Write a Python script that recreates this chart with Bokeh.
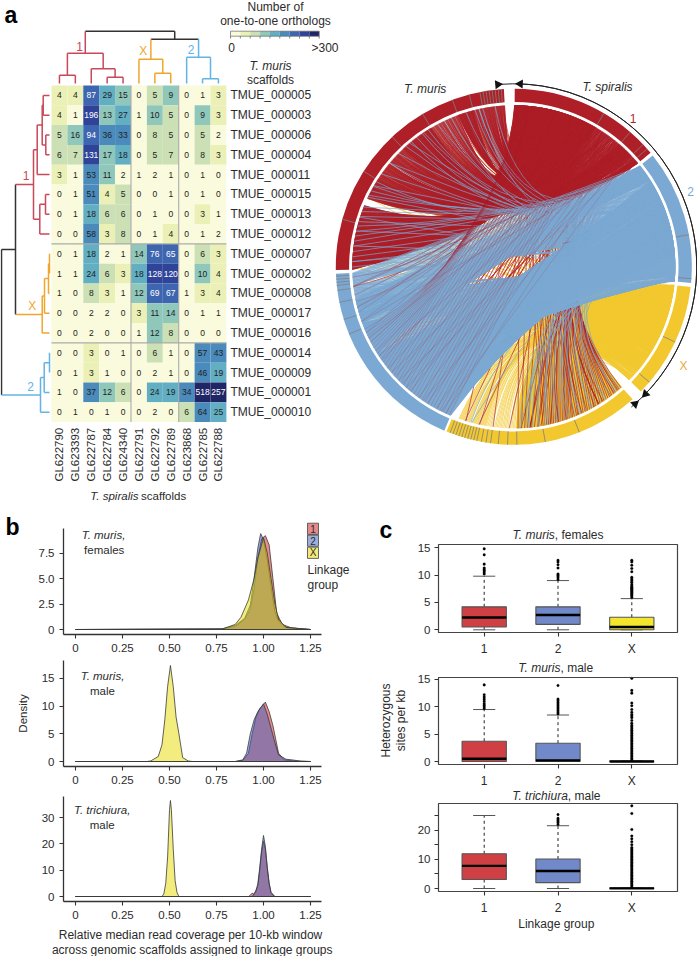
import math
from bokeh.plotting import figure
from bokeh.layouts import column, row
from bokeh.models import Range1d, Label, FixedTicker
from bokeh.core.properties import value
from bokeh.embed import file_html
from bokeh.resources import INLINE

FONT = "Liberation Sans"
INK = "#2b2b2b"
RED, ORANGE, SKY, DARK = "#C9485A", "#F0A62E", "#62B4E4", "#333333"

# ---------- panel a data ----------
muris_rows = ["TMUE_000005","TMUE_000003","TMUE_000006","TMUE_000004","TMUE_000011","TMUE_000015","TMUE_000013","TMUE_000012",
              "TMUE_000007","TMUE_000002","TMUE_000008","TMUE_000017","TMUE_000016","TMUE_000014","TMUE_000009","TMUE_000001","TMUE_000010"]
spiralis_cols = ["GL622790","GL623393","GL622787","GL622784","GL624340","GL622791","GL622792","GL622789","GL623868","GL622785","GL622788"]
ortholog_counts = [
    [4,4,87,29,15,0,5,9,0,1,3],
    [4,1,196,13,27,1,10,5,0,9,3],
    [5,16,94,36,33,0,8,5,0,5,2],
    [6,7,131,17,18,0,5,7,0,8,3],
    [3,1,53,11,2,1,2,1,0,1,0],
    [0,1,51,4,5,0,0,1,0,1,0],
    [0,1,18,6,6,0,1,0,0,3,1],
    [0,0,58,3,8,0,1,4,0,1,2],
    [0,1,18,2,1,14,76,65,0,6,3],
    [1,1,24,6,3,18,128,120,0,10,4],
    [1,0,8,3,1,12,69,67,1,3,4],
    [0,0,2,2,0,3,11,14,0,1,1],
    [0,0,2,0,0,1,12,8,0,0,0],
    [0,0,3,0,1,0,6,1,0,57,43],
    [0,1,3,1,0,0,2,1,0,46,19],
    [1,0,37,12,6,0,24,19,34,518,257],
    [0,1,0,1,0,0,2,0,6,64,25],
]
heat_palette = ["#FAFADC","#EBF1B6","#CBE0B4","#8FC7BB","#62AEC3","#4A8BBC","#3E66B0","#2F4399","#202566"]
heat_limits = [2,4,8,17,30,64,100,250]

col_tree = (54.3,DARK,(32.3,RED,(10.3,RED,0,1),(16.7,RED,2,(8.3,RED,3,4))),
            (46.3,DARK,(26.3,ORANGE,5,(12.3,ORANGE,6,7)),(28.3,SKY,8,(6.7,SKY,9,10))))
row_tree = (50,DARK,(36,DARK,
            (18,RED,(14.3,RED,(9.3,RED,(8.3,RED,0,1),(5.7,RED,2,3)),4),(11.7,RED,(6,RED,5,6),7)),
            (9.3,ORANGE,(7,ORANGE,(3,ORANGE,(2,ORANGE,8,9),10),11),12)),
            (11,SKY,(7.3,SKY,(2,SKY,13,14),15),16))

# circos scaffolds: clockwise degrees from the top
spiralis_arc = {"GL622787":(0.3,30.4),"GL622784":(30.4,40.8),"GL624340":(40.8,46.6),"GL622790":(46.6,48.5),"GL623393":(48.5,50.2),
                "GL622785":(51.3,79.6),"GL622788":(79.6,93.8),"GL623868":(93.8,95.2),
                "GL622792":(96.5,115.0),"GL622789":(115.0,130.4),"GL622791":(130.4,134.5)}
muris_arc = {"TMUE_000002":(138.1,158.4),"TMUE_000007":(158.4,169.8),"TMUE_000008":(169.8,179.0),"TMUE_000016":(179.0,190.0),"TMUE_000017":(190.0,200.0),
             "TMUE_000001":(203.0,247.8),"TMUE_000010":(247.8,252.8),"TMUE_000014":(252.8,258.5),"TMUE_000009":(258.5,267.8),
             "TMUE_000003":(269.0,285.5),"TMUE_000004":(285.5,302.5),"TMUE_000005":(302.5,316.9),"TMUE_000006":(316.9,329.2),
             "TMUE_000012":(329.2,339.8),"TMUE_000011":(339.8,345.5),"TMUE_000013":(345.5,349.5),"TMUE_000015":(349.5,356.8)}
link_free_arcs = {"TMUE_000004":(292.3,295.0)}
ring_groups = [(0.3,50.2,"#AE1F28"),(51.3,95.2,"#7BA9D3"),(96.5,134.5,"#F2C82E"),(138.1,202.2,"#F2C82E"),(203.0,267.8,"#7BA9D3"),(269.0,356.8,"#AE1F28")]
ring_ticks = [30.4,40.8,46.6,48.5,79.6,93.8,115,130.4,158.4,169.8,179,182,185,187.5,189,190.5,192,193,194,195,196,197,198,199,200,201,
              247.8,252.8,258.5,262.4,264,265,266,267,285.5,302.5,316.9,329.2,339.8,345.5,349,350,351,352,353,354,355,356]
col_link_color = {0:"#AE1F28",1:"#AE1F28",2:"#AE1F28",3:"#AE1F28",4:"#AE1F28",5:"#F2C82E",6:"#F2C82E",7:"#F2C82E",8:"#7BA9D3",9:"#7BA9D3",10:"#7BA9D3"}
group_of_col = [0,0,0,0,0,1,1,1,2,2,2]
group_of_row = [0]*8 + [1]*5 + [2]*4

# ---------- panel b data ----------
b1_red_x = [0,.78,.85,.9,.93,.95,.97,.99,1.01,1.03,1.05,1.07,1.1,1.15,1.25]
b1_red_y = [0,.05,.3,1.0,2.0,4,7,8.9,9.2,8.3,5,1.6,.5,.15,0]
b1_blue_x = [0,.78,.85,.9,.93,.95,.97,.985,1.0,1.02,1.04,1.06,1.08,1.12,1.25]
b1_blue_y = [0,.05,.4,1.1,2.4,5,8,9.4,8.8,6.8,4.2,1.8,.8,.2,0]
b1_yel_x = [0,.78,.85,.88,.92,.95,.97,1.0,1.02,1.04,1.06,1.08,1.12,1.25]
b1_yel_y = [0,.05,.5,1.2,2.9,5,7,9.0,7.5,5,2.6,1,.2,0]
b2_red_x = [0,.85,.89,.92,.94,.96,.98,1.01,1.03,1.05,1.065,1.08,1.11,1.16,1.25]
b2_red_y = [0,0,.2,1.5,5,8,9.5,10.7,9,6.5,4,1.5,.3,.1,0]
b2_blue_x = [0,.85,.89,.91,.93,.95,.97,1.0,1.02,1.04,1.06,1.08,1.12,1.15,1.2,1.25]
b2_blue_y = [0,0,.3,1.5,5,7.5,9,10.4,8.5,6,3.5,1.2,.4,.3,.05,0]
b2_yel_x = [0,.38,.40,.44,.46,.475,.49,.505,.52,.535,.55,.57,.60,.62,1.25]
b2_yel_y = [0,0,.1,.9,3,7.5,13.5,17.3,13.5,8,5,.7,.1,0,0]
b3_red_x = [0,.92,.93,.94,.95,.97,.98,.99,1.0,1.01,1.02,1.03,1.04,1.06,1.25]
b3_red_y = [0,0,.5,1.3,.8,4,10,17,21,18,11,5,1.5,0,0]
b3_blue_x = [0,.94,.96,.97,.98,.99,1.0,1.01,1.02,1.03,1.04,1.06,1.25]
b3_blue_y = [0,0,2,5,11,18,23.2,19,11,5,1.5,0,0]
b3_yel_x = [0,.46,.47,.48,.49,.50,.505,.51,.52,.53,.54,.55,1.25]
b3_yel_y = [0,0,1,5,15,33,36.5,33,18,6,1.5,0,0]
coverage_ticks = [0,.25,.5,.75,1,1.25]
coverage_labels = ["0","0.25","0.50","0.75","1.00","1.25"]
linkage_groups = ["1","2","X"]

# ---------- panel c data ----------
c1_q1=[.5,1.0,0]; c1_med=[2.25,2.7,.5]; c1_q3=[4.2,4.2,2.3]; c1_lo=[0,0,0]; c1_hi=[9.8,9.0,5.7]
c1_out=[[10.2,10.5,10.8,11,11.3,12,13.7,14.8],[9.2,9.5,9.8,10,10.2,11.3,11.9,12.4,12.7],
        [5.9,6.2,6.4,6.6,6.8,7,7.2,7.4,7.6,7.8,8,8.3,8.7,9,9.3,9.6,10.6,11.2,11.8,12.4,12.7]]
c2_q1=[0,0,0]; c2_med=[.5,.2,0]; c2_q3=[3.7,3.35,.1]; c2_lo=[0,0,0]; c2_hi=[9.5,8.5,.1]
c2_out=[[9.7,10,10.3,10.6,11,11.4,11.8,12.2,14],[8.7,9,9.3,9.6,9.9,10.2,10.5,10.8,11.1,11.4,13.9],
        [.3,.6,.9,1.2,1.5,1.8,2.1,2.4,2.7,3,3.3,3.6,3.9,4.2,4.5,4.8,5.1,5.4,5.7,6,6.3,6.6,7,7.5,8,8.3,8.6,9,9.5,10.2,10.7,12.5,13,15.2]]
c3_q1=[3.1,2,0]; c3_med=[7.75,6,.05]; c3_q3=[11.9,10.1,.2]; c3_lo=[0,0,0]; c3_hi=[25,21.5,.2]
c3_out=[[],[21.9,22.5,23,23.5,24,25.3],
        [.5,1,1.5,2,2.5,3,3.5,4,4.5,5,5.5,6,6.5,7,7.5,8,8.5,9,9.5,10,10.5,11,11.5,12,12.5,13,13.5,14,15,16,17,18,20.2,25.7,28.3]]
box_fill = ["#CF4045","#7189C8","#F3E62C"]
density_fill = ["#D7191C","#3A5FBF","#E8DC00"]


def panel(fig_l, fig_r, fig_t, fig_b, xr, yr):
    """A figure whose frame fills it; axes are pinned inside with fixed_location."""
    p = figure(width=fig_r-fig_l, height=fig_b-fig_t, x_range=Range1d(*xr), y_range=Range1d(*yr),
               min_border=0, toolbar_location=None, output_backend="svg",
               background_fill_color="white", border_fill_color="white", outline_line_color=None)
    p.grid.visible = False
    p._px = (fig_l, fig_r, fig_t, fig_b, xr, yr)
    return p

def sub(fig_l, fig_r, fig_t, fig_b, il, ir, it, ib, xr, yr):
    sx = (xr[1]-xr[0])/(ir-il); sy = (yr[1]-yr[0])/(ib-it)
    XR = (xr[0]-(il-fig_l)*sx, xr[1]+(fig_r-ir)*sx)
    YR = (yr[0]-(fig_b-ib)*sy, yr[1]+(it-fig_t)*sy)
    p = panel(fig_l, fig_r, fig_t, fig_b, XR, YR)
    p.xaxis.fixed_location = yr[0]; p.yaxis.fixed_location = xr[0]
    p.xaxis.bounds = xr; p.yaxis.bounds = yr
    p._inner = (xr, yr)
    return p

def to_x(p, px):
    fl, fr, ft, fb, xr, yr = p._px
    return xr[0] + (px-fl)/(fr-fl)*(xr[1]-xr[0])

def to_y(p, py):
    fl, fr, ft, fb, xr, yr = p._px
    return yr[1] + (py-ft)/(fb-ft)*(yr[0]-yr[1])

def lab(p, px, py, txt, size=11.5, color=INK, align="center", style="normal", angle=0, base="middle"):
    p.add_layout(Label(x=px-p._px[0], y=py-p._px[2], x_units="canvas", y_units="canvas", text=txt, text_font=FONT, level="overlay",
                       text_font_size=f"{size}px", text_color=color, text_align=align, text_baseline=base,
                       text_font_style=style, angle=angle, angle_units="rad"))

# ---------- panel a, heatmap ----------
CELL_W, CELL_H = 15.9, 19.8
GRID_L, GRID_T = 51.0, 85.0
a_x = ((0-GRID_L)/CELL_W, (697-GRID_L)/CELL_W)
a_y = ((510-GRID_T)/CELL_H, (0-GRID_T)/CELL_H)
a = panel(0, 697, 0, 510, a_x, a_y)
a.axis.visible = False

def shade(v):
    for lim, c in zip(heat_limits, heat_palette):
        if v <= lim:
            return c
    return heat_palette[-1]

xs, ys, cs, ts, tc = [], [], [], [], []
for r, vals in enumerate(ortholog_counts):
    for c, v in enumerate(vals):
        xs.append(c+.5); ys.append(r+.5); cs.append(shade(v)); ts.append(str(v))
        tc.append("#FFFFFF" if v >= 65 else "#222222")
a.rect(xs, ys, width=1, height=1, fill_color=cs, line_color=None)
a.text(xs, ys, text=ts, text_color=tc, text_font=value(FONT), text_font_size="8.5px", text_align="center", text_baseline="middle")
ncol, nrow = len(spiralis_cols), len(muris_rows)
a.segment([5,8,0,0],[0,0,8,13],[5,8,ncol,ncol],[nrow,nrow,8,13], line_color="#ABABAB", line_width=1.1)
a.text([ncol+.25]*nrow, [i+.5 for i in range(nrow)], text=muris_rows, text_font=value(FONT), text_font_size="12px",
       text_color=INK, text_baseline="middle", text_align="left")
a.text([i+.5 for i in range(ncol)], [20.0]*ncol, text=spiralis_cols, text_font=value(FONT), text_font_size="11.5px",
       text_color=INK, text_baseline="middle", text_align="left", angle=math.pi/2)

def walk(node, out):
    if isinstance(node, int):
        return node+.5, 2.0
    h, col, l, r = node
    pl, hl = walk(l, out); pr, hr = walk(r, out)
    ccl = l[1] if not isinstance(l, int) else col
    ccr = r[1] if not isinstance(r, int) else col
    out.append((pl, h, pr, h, col)); out.append((pl, h, pl, hl, ccl)); out.append((pr, h, pr, hr, ccr))
    return (pl+pr)/2, h

top_segs = []; walk(col_tree, top_segs)
a.segment([s[0] for s in top_segs], [-s[1]/CELL_H for s in top_segs], [s[2] for s in top_segs], [-s[3]/CELL_H for s in top_segs],
          line_color=[s[4] for s in top_segs], line_width=1.5)
left_segs = []; walk(row_tree, left_segs)
a.segment([-s[1]/CELL_W for s in left_segs], [s[0] for s in left_segs], [-s[3]/CELL_W for s in left_segs], [s[2] for s in left_segs],
          line_color=[s[4] for s in left_segs], line_width=1.5)

# colour key
key_l, key_w = to_x(a, 230), (to_x(a, 318.7)-to_x(a, 230))/len(heat_palette)
a.rect([key_l+key_w*(i+.5) for i in range(9)], [to_y(a, 33.2)]*9, width=key_w, height=5/CELL_H,
       fill_color=heat_palette, line_color=None)
a.rect([key_l+key_w*4.5], [to_y(a, 33.2)], width=key_w*9, height=5/CELL_H, fill_color=None, line_color="#666666", line_width=.7)
tk = [key_l+key_w*i for i in range(0,10)]
a.segment(tk, [to_y(a, 35.7)]*10, tk, [to_y(a, 38)]*10, line_color="#555555", line_width=.7)
lab(a, 275, 6, "Number of", 12)
lab(a, 275, 20, "one-to-one orthologs", 12)
lab(a, 231, 47, "0", 12)
lab(a, 338, 47, ">300", 12, align="right")
lab(a, 270, 65, "T. muris", 12, style="italic")
lab(a, 270, 79, "scaffolds", 12)
lab(a, 138, 495.6, "T. spiralis", 11.5, align="right", style="italic")
lab(a, 140.5, 495.6, "scaffolds", 11.5, align="left")
lab(a, 4, 14, "a", 23, color="#000000", align="left", style="bold")
lab(a, 79, 45.7, "1", 12, color=RED)
lab(a, 142.7, 50, "X", 12, color=ORANGE)
lab(a, 190.7, 49, "2", 12, color=SKY)
lab(a, 25.7, 175, "1", 12, color=RED)
lab(a, 31.7, 305, "X", 12, color=ORANGE)
lab(a, 30, 385.7, "2", 12, color=SKY)

# ---------- panel a, circos ----------
CX, CY = 513.3, 266.3
R_OUT, R_IN, R_LINK, R_ARROW = 178.0, 164.7, 161.5, 183.0
HOLE = 11.0
a.extra_x_ranges["px"] = Range1d(0-CX, 697-CX)
a.extra_y_ranges["px"] = Range1d(CY-510, CY)
PX = dict(x_range_name="px", y_range_name="px")

def polar(deg, rad):
    t = math.radians(deg)
    return rad*math.sin(t), rad*math.cos(t)

def slots(cells, span, free=None):
    """Spread the links of one scaffold evenly along its arc, interleaving the partner scaffolds."""
    items = []
    for key, n in cells:
        for k in range(n):
            items.append(((k+.5)/n, key, k))
    items.sort()
    out = {}
    N = len(items)
    skip = (free[1]-free[0]) if free else 0.0
    for i, (_, key, k) in enumerate(items):
        ang = span[0] + (span[1]-span[0]-skip)*(i+.5)/N
        if free and ang > free[0]:
            ang += skip
        out[(key, k)] = ang
    return out

muris_pos = {r: slots([(c, ortholog_counts[r][c]) for c in range(ncol)], muris_arc[muris_rows[r]], link_free_arcs.get(muris_rows[r])) for r in range(nrow)}
spiralis_pos = {c: slots([(r, ortholog_counts[r][c]) for r in range(nrow)], spiralis_arc[spiralis_cols[c]]) for c in range(ncol)}

link_order = []
for g in (1, 0, 2):
    cells = [(r, c) for r in range(nrow) for c in range(ncol) if group_of_col[c] == g]
    cells.sort(key=lambda rc: group_of_row[rc[0]] != g)
    link_order += cells
faint_cells = [(r, c) for r in range(nrow) for c in range(ncol) if group_of_row[r] == 2 and group_of_col[c] == 0]

def straightness(a0, a1):
    """Curve shape only: wide-apart ends run nearly straight, close ends bend towards the centre."""
    sep = abs(a0-a1) % 360
    sep = min(sep, 360-sep)
    return .15 + .85*min(1.0, max(0.0, (sep-110)/33))

def build(cells):
    x0, y0, x1, y1, cx_, cy_, lc = [], [], [], [], [], [], []
    for r, c in cells:
        n = ortholog_counts[r][c]
        for k in range(n):
            am, asp = muris_pos[r][(c, k)], spiralis_pos[c][(r, n-1-k)]
            px, py = polar(am, R_LINK)
            qx, qy = polar(asp, R_LINK)
            b = straightness(am, asp)
            ctrl = (b*(px+qx)/2, b*(py+qy)/2)
            mx, my = (px+qx)/4*(1+b), (py+qy)/4*(1+b)
            d = math.hypot(mx, my)
            if group_of_col[c] == 2 and 1e-6 < d < HOLE:
                bx_, by_ = (px+qx)/4, (py+qy)/4
                ctrl = (2*(mx/d*HOLE-bx_), 2*(my/d*HOLE-by_))
            x0.append(px); y0.append(py); x1.append(qx); y1.append(qy)
            cx_.append(ctrl[0]); cy_.append(ctrl[1]); lc.append(col_link_color[c])
    return x0, y0, x1, y1, cx_, cy_, lc

l_main = build(link_order)
a.quadratic(*l_main[:6], line_color=l_main[6], line_width=.75, line_alpha=.9, **PX)
l_faint = build(faint_cells)
a.quadratic(*l_faint[:6], line_color=l_faint[6], line_width=.5, line_alpha=.35, **PX)

a.annular_wedge([0]*6, [0]*6, inner_radius=R_IN, outer_radius=R_OUT,
                 start_angle=[math.radians(90-g[0]) for g in ring_groups],
                 end_angle=[math.radians(90-g[1]) for g in ring_groups], direction="clock",
                 fill_color=[g[2] for g in ring_groups], line_color=None, **PX)
rt = [polar(a_, R_IN) for a_ in ring_ticks]; ro = [polar(a_, R_OUT) for a_ in ring_ticks]
a.segment([q[0] for q in rt], [q[1] for q in rt], [q[0] for q in ro], [q[1] for q in ro], line_color="#808080", line_width=.8, **PX)
a.arc([0,0], [0,0], radius=[R_ARROW, R_ARROW],
       start_angle=[math.radians(90-(-5)), math.radians(90-1)], end_angle=[math.radians(90-(-220)), math.radians(90-132)],
       direction="clock", line_color=["#222222","#222222"], line_width=1, **PX)
heads = [(-5.0, -90+5.0), (138.5, 90-138.5), (2.0, 90-2.0), (134.0, -90-134.0)]
hp = [polar(h[0], R_ARROW) for h in heads]
a.scatter([q[0] for q in hp], [q[1] for q in hp], marker="triangle", size=9, angle=[math.radians(h[1]) for h in heads],
           fill_color="#111111", line_color=None, **PX)
lab(a, 424.7, 88, "T. muris", 12, style="italic")
lab(a, 607, 86.7, "T. spiralis", 12, style="italic")
lab(a, 632.7, 118, "1", 12, color="#AE1F28")
lab(a, 690, 190.7, "2", 12, color="#7BA9D3")
lab(a, 683, 365.7, "X", 12, color="#E8A93C")

# ---------- panel b ----------
def range_from(zero_px, px_per, ft, fb):
    return (-(fb-zero_px)/px_per, (zero_px-ft)/px_per)

BX_L, BX_R = 63, 321
bx = ((BX_L-75)/188, (BX_R-75)/188)

def dens(p, series):
    for (x, y), col in zip(series, density_fill):
        p.patch(x, y, fill_color=col, fill_alpha=.5, line_color="#3a3a3a", line_width=.8)

def style_axes(ax):
    ax.major_tick_line_color = "#333333"; ax.major_tick_out = 4; ax.major_tick_in = 0; ax.major_tick_line_width = 1.1
    ax.minor_tick_line_color = None
    ax.major_label_text_font = FONT; ax.major_label_text_font_size = "11.5px"; ax.major_label_text_color = INK

def style_b(p, yticks, ylabels):
    yl, xl = p.yaxis[0], p.xaxis[0]
    for ax in (yl, xl):
        style_axes(ax)
        ax.axis_line_color = "#333333"; ax.axis_line_width = 1.3
        ax.major_label_standoff = 5
    xl.ticker = FixedTicker(ticks=coverage_ticks)
    xl.major_label_overrides = {t: s for t, s in zip(coverage_ticks, coverage_labels)}
    yl.ticker = FixedTicker(ticks=yticks)
    yl.major_label_overrides = {t: s for t, s in zip(yticks, ylabels)}

b1 = sub(0, 370, 510, 658, BX_L, BX_R, 528, 634, bx, range_from(629, 10.2, 528, 634))
dens(b1, [(b1_red_x, b1_red_y), (b1_blue_x, b1_blue_y), (b1_yel_x, b1_yel_y)])
style_b(b1, [0,2.5,5,7.5], ["0","2.5","5.0","7.5"])
lab(b1, 103, 534, "T. muris,", 11.5, style="italic")
lab(b1, 103.7, 549, "females", 11.5)
lab(b1, 5, 526, "b", 23, color="#000000", align="left", style="bold")
swatch = ["#E58A8A","#9CAEDA","#F3E97A"]
sw_x = [to_x(b1, 312.5)]*3
sw_y = [to_y(b1, 528.3), to_y(b1, 540.2), to_y(b1, 552.3)]
b1.rect(sw_x, sw_y, width=(to_x(b1,318)-to_x(b1,307)), height=(to_y(b1,522.8)-to_y(b1,534)),
        fill_color=swatch, line_color="#444444", line_width=.8)
for g, py in zip(linkage_groups, [528.3, 540.2, 552.3]):
    lab(b1, 312.5, py, g, 10)
lab(b1, 307, 569, "Linkage", 12, align="left")
lab(b1, 307, 584, "group", 12, align="left")

b2 = sub(0, 370, 658, 792, BX_L, BX_R, 660, 766, bx, range_from(761, 5.55, 660, 766))
dens(b2, [(b2_red_x, b2_red_y), (b2_blue_x, b2_blue_y), (b2_yel_x, b2_yel_y)])
style_b(b2, [0,5,10,15], ["0","5","10","15"])
lab(b2, 102, 675.7, "T. muris,", 11.5, style="italic")
lab(b2, 102, 690, "male", 11.5)
lab(b2, 22, 713, "Density", 11.5, angle=math.pi/2)

b3 = sub(0, 370, 792, 956, BX_L, BX_R, 796, 901, bx, range_from(896, 2.63, 796, 901))
dens(b3, [(b3_red_x, b3_red_y), (b3_blue_x, b3_blue_y), (b3_yel_x, b3_yel_y)])
style_b(b3, [0,10,20,30], ["0","10","20","30"])
lab(b3, 101.7, 809.7, "T. trichiura,", 11.5, style="italic")
lab(b3, 101.7, 824.7, "male", 11.5)
lab(b3, 190, 934, "Relative median read coverage per 10-kb window", 12)
lab(b3, 191.7, 949, "across genomic scaffolds assigned to linkage groups", 12)

# ---------- panel c ----------
CX_L, CX_R = 438, 677
cx = (1+(CX_L-483.7)/73.8, 3+(CX_R-631.3)/73.8)

def boxes(p, q1, med, q3, lo, hi, out, yticks, ylabels):
    pos = [1, 2, 3]
    p.segment(pos, q3, pos, hi, line_color="#222222", line_width=1, line_dash="3 3")
    p.segment(pos, lo, pos, q1, line_color="#222222", line_width=1, line_dash="3 3")
    p.segment([x-.15 for x in pos], hi, [x+.15 for x in pos], hi, line_color="#555555", line_width=1)
    p.segment([x-.15 for x in pos], lo, [x+.15 for x in pos], lo, line_color="#555555", line_width=1)
    p.vbar(pos, width=.6, bottom=q1, top=q3, fill_color=box_fill, line_color="#555555", line_width=1.1)
    p.segment([x-.3 for x in pos], med, [x+.3 for x in pos], med, line_color="#000000", line_width=2.4)
    ox = [i+1 for i, o in enumerate(out) for _ in o]
    oy = [v for o in out for v in o]
    p.scatter(ox, oy, size=2.6, fill_color="#000000", line_color="#000000", line_width=.3)
    (xr, yr) = p._inner
    p.quad(left=[xr[0]], right=[xr[1]], bottom=[yr[0]], top=[yr[1]], fill_color=None, line_color="#444444", line_width=1.2)
    yl, xl = p.yaxis[0], p.xaxis[0]
    for ax in (yl, xl):
        style_axes(ax)
        ax.axis_line_color = None
    xl.major_label_text_font_size = "12px"
    xl.major_label_standoff = 5
    yl.major_label_standoff = 4
    xl.ticker = FixedTicker(ticks=pos)
    xl.major_label_overrides = {t: s for t, s in zip(pos, linkage_groups)}
    yl.ticker = FixedTicker(ticks=yticks)
    yl.major_label_overrides = {t: s for t, s in zip(yticks, ylabels)}

c1 = sub(370, 697, 510, 660, CX_L, CX_R, 544, 632, cx, range_from(629.3, 5.47, 544, 632))
c2 = sub(370, 697, 660, 790, CX_L, CX_R, 677, 764, cx, range_from(761, 5.47, 677, 764))
c3 = sub(370, 697, 790, 956, CX_L, CX_R, 803, 891, cx, range_from(888, 2.92, 803, 891))
boxes(c1, c1_q1, c1_med, c1_q3, c1_lo, c1_hi, c1_out, [0,5,10,15], ["0","5","10","15"])
boxes(c2, c2_q1, c2_med, c2_q3, c2_lo, c2_hi, c2_out, [0,5,10,15], ["0","5","10","15"])
boxes(c3, c3_q1, c3_med, c3_q3, c3_lo, c3_hi, c3_out, [0,5,10,15,20,25], ["0","","10","","20",""])
lab(c1, 379, 529, "c", 23, color="#000000", align="left", style="bold")
lab(c1, 554.3, 534, "T. muris", 12, align="right", style="italic")
lab(c1, 554.3, 534, ", females", 12, align="left")
lab(c2, 560, 667.3, "T. muris", 12, align="right", style="italic")
lab(c2, 560, 667.3, ", male", 12, align="left")
lab(c3, 567.3, 795.3, "T. trichiura", 12, align="right", style="italic")
lab(c3, 567.3, 795.3, ", male", 12, align="left")
lab(c2, 385.7, 720, "Heterozygous", 12, angle=math.pi/2)
lab(c2, 400.7, 720, "sites per kb", 12, angle=math.pi/2)
lab(c3, 555.8, 923.7, "Linkage group", 12)

page = column(a,
              row(column(b1, b2, b3, spacing=0), column(c1, c2, c3, spacing=0), spacing=0),
              spacing=0)
open("out.html", "w").write(file_html(page, INLINE))
